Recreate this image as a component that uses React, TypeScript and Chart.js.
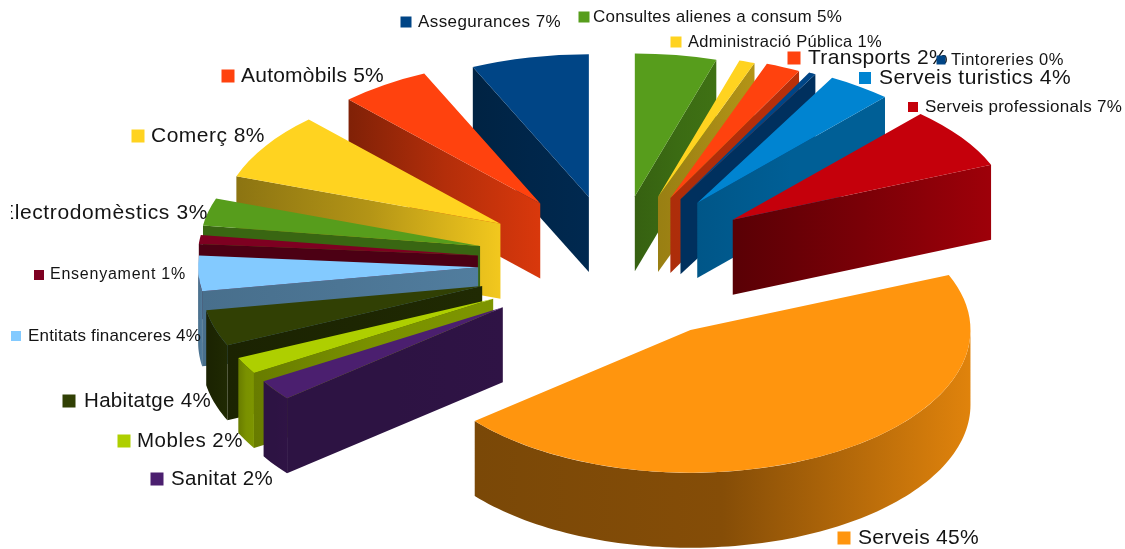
import React, { useEffect, useRef } from "react";
import { Chart, registerables } from "chart.js";

Chart.register(...registerables);

const categories = [
  "Consultes alienes a consum",
  "Administració Pública",
  "Transports",
  "Tintoreries",
  "Serveis turistics",
  "Serveis professionals",
  "Serveis",
  "Sanitat",
  "Mobles",
  "Habitatge",
  "Entitats financeres",
  "Ensenyament",
  "Electrodomèstics",
  "Comerç",
  "Automòbils",
  "Assegurances",
];
const values = [4.7, 0.9, 2, 0.4, 3.7, 7, 45.3, 2.3, 1.9, 4.1, 4, 1, 3.1, 7.6, 5.2, 6.8];
const percentLabels = [5, 1, 2, 0, 4, 7, 45, 2, 2, 4, 4, 1, 3, 8, 5, 7];
const colors = [
  "#579d1c", "#ffd320", "#ff420e", "#004586", "#0084d1", "#c5000b", "#ff950e", "#4b1f6f",
  "#aecf00", "#314004", "#83caff", "#7e0021", "#579d1c", "#ffd320", "#ff420e", "#004586",
];

// Styling of the 3D look: how far each slice is pulled out, and its wall shading (left, middle, right)
const explode = [128, 132, 135, 137, 140, 143, 144, 139, 139, 140, 138, 139, 140, 138, 136, 128];
const wallShades = [
  [0.62, 0.68, 0.72], [0.6, 0.65, 0.7], [0.68, 0.7, 0.72], [0.7, 0.7, 0.7],
  [0.65, 0.72, 0.72], [0.45, 0.62, 0.8], [0.48, 0.52, 0.88], [0.6, 0.6, 0.62],
  [0.6, 0.7, 0.72], [0.55, 0.6, 0.65], [0.55, 0.58, 0.62], [0.6, 0.6, 0.6],
  [0.65, 0.65, 0.65], [0.55, 0.7, 0.95], [0.5, 0.7, 0.85], [0.5, 0.55, 0.6],
];
const CENTER_X = 616;
const CENTER_Y = 264;
const RADIUS = 280;
const SQUASH = 0.51;
const EXPLODE_SQUASH = 0.535;
const DEPTH = 75;

// Label placement, same order as categories: text left, text right, middle y, font size, square middle x, square size
const labelLeft = [593, 688, 808, 951, 879, 925, 858, 171, 137, 84, 28, 50, 0, 151, 241, 418];
const labelRight = [842, 882, 948, 1064, 1071, 1122, 979, 273, 243, 211, 201, 186, 208, 265, 384, 561];
const labelY = [17, 42, 58, 60, 78, 107, 538, 479, 441, 401, 336, 275, 213, 136, 76, 22];
const labelFont = [17, 16.5, 21, 16.5, 21, 17, 21, 20.5, 20.5, 20.5, 17, 16, 21, 21, 21, 17];
const squareX = [584, 676, 794, 941, 865, 913, 844, 157, 124, 69, 16, 39, -20, 138, 228, 406];
const squareSize = [11, 11, 13, 9, 12, 10, 13, 13, 13, 13, 10, 10, 13, 13, 13, 11];

function shade(hex: string, f: number) {
  const n = parseInt(hex.slice(1), 16);
  const c = [(n >> 16) & 255, (n >> 8) & 255, n & 255].map((v) => Math.round(v * f));
  return `rgb(${c[0]},${c[1]},${c[2]})`;
}

function fillWall(ctx: CanvasRenderingContext2D, pts: number[][], i: number) {
  if (pts.length < 2) return;
  const xs = pts.map((p) => p[0]);
  const x0 = Math.min(...xs);
  const x1 = Math.max(...xs);
  const grad = ctx.createLinearGradient(x0, 0, Math.max(x1, x0 + 1), 0);
  const s = wallShades[i];
  grad.addColorStop(0, shade(colors[i], s[0]));
  grad.addColorStop(0.5, shade(colors[i], s[1]));
  grad.addColorStop(1, shade(colors[i], s[2]));
  ctx.fillStyle = grad;
  ctx.beginPath();
  pts.forEach((p, k) => (k ? ctx.lineTo(p[0], p[1]) : ctx.moveTo(p[0], p[1])));
  for (let k = pts.length - 1; k >= 0; k--) ctx.lineTo(pts[k][0], pts[k][1] + DEPTH);
  ctx.closePath();
  ctx.fill();
}

const pie3d = {
  id: "pie3d",
  beforeDatasetDraw(chart: any, args: any) {
    const ctx: CanvasRenderingContext2D = chart.ctx;
    const arcs = args.meta.data;
    const mid = (a: any) => (a.startAngle + a.endAngle) / 2;
    const order = arcs.map((_: any, i: number) => i).sort((p: number, q: number) => Math.sin(mid(arcs[p])) - Math.sin(mid(arcs[q])));
    for (const i of order) {
      const arc = arcs[i];
      const m = mid(arc);
      const ox = CENTER_X + explode[i] * Math.cos(m);
      const oy = CENTER_Y + explode[i] * Math.sin(m) * EXPLODE_SQUASH;
      const pt = (a: number) => [ox + arc.outerRadius * Math.cos(a), oy + arc.outerRadius * SQUASH * Math.sin(a)];
      const s = arc.startAngle;
      const e = arc.endAngle;
      if (Math.cos(s) < 0) fillWall(ctx, [[ox, oy], pt(s)], i);
      if (Math.cos(e) > 0) fillWall(ctx, [[ox, oy], pt(e)], i);
      const lo = Math.max(s, 0);
      const hi = Math.min(e, Math.PI);
      if (hi > lo) {
        const rim: number[][] = [];
        const steps = Math.max(2, Math.ceil((hi - lo) * 40));
        for (let k = 0; k <= steps; k++) rim.push(pt(lo + ((hi - lo) * k) / steps));
        fillWall(ctx, rim, i);
      }
      ctx.save();
      ctx.translate(ox, oy);
      ctx.scale(1, SQUASH);
      ctx.translate(-arc.x, -arc.y);
      arc.draw(ctx);
      ctx.restore();
    }
    return false;
  },
  afterDraw(chart: any) {
    const ctx: CanvasRenderingContext2D = chart.ctx;
    ctx.save();
    ctx.beginPath();
    ctx.rect(11, 0, chart.width - 11, chart.height);
    ctx.clip();
    ctx.textBaseline = "middle";
    ctx.textAlign = "left";
    categories.forEach((name, i) => {
      const sz = squareSize[i];
      ctx.fillStyle = colors[i];
      ctx.fillRect(squareX[i] - sz / 2, labelY[i] - sz / 2, sz, sz);
      const text = `${name} ${percentLabels[i]}%`;
      ctx.save();
      ctx.font = `${labelFont[i]}px "Liberation Sans"`;
      (ctx as any).letterSpacing = "0px";
      const w = ctx.measureText(text).width;
      (ctx as any).letterSpacing = `${(labelRight[i] - labelLeft[i] - w) / text.length}px`;
      ctx.fillStyle = "#141414";
      ctx.fillText(text, labelLeft[i], labelY[i]);
      ctx.restore();
    });
    ctx.restore();
  },
};

export default function App() {
  const ref = useRef<HTMLCanvasElement>(null);
  useEffect(() => {
    document.body.style.margin = "0";
    const chart = new Chart(ref.current as HTMLCanvasElement, {
      type: "pie",
      data: {
        labels: categories,
        datasets: [{ data: values, backgroundColor: colors, borderWidth: 0 }],
      },
      options: {
        responsive: false,
        animation: false,
        radius: RADIUS,
        layout: { padding: 0 },
        plugins: { legend: { display: false }, tooltip: { enabled: false } },
      } as any,
      plugins: [pie3d as any],
    });
    return () => chart.destroy();
  }, []);
  return <canvas ref={ref} width={1125} height={549} style={{ display: "block", background: "#fff" }} />;
}
